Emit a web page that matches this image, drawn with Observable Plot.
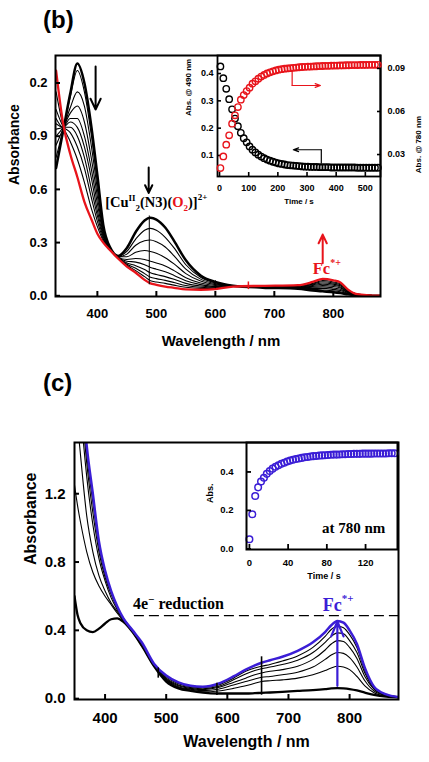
<!DOCTYPE html>
<html><head><meta charset="utf-8">
<script src="https://cdn.jsdelivr.net/npm/d3@7"></script>
<script src="https://cdn.jsdelivr.net/npm/@observablehq/plot@0.6"></script>
<style>
body{margin:0;background:#fff;}
#root{position:relative;width:429px;height:762px;overflow:hidden;font-family:"Liberation Sans",Arial,sans-serif;}
.tag{position:absolute;font-weight:bold;font-size:24px;line-height:24px;font-family:"Liberation Sans",Arial,sans-serif;}
</style></head><body>
<div id="root">
  <div class="tag" style="left:43px;top:8px">(b)</div>
  <div class="tag" style="left:43px;top:371px">(c)</div>
</div>
<script>
// ---------- Panel (b): spectra ----------
const wlB = [330, 342, 354, 366, 378, 390, 400, 410, 422, 435, 450, 465, 480, 490, 500, 515, 530, 550, 575, 600, 630, 680, 740, 765, 782, 800, 812, 825, 840, 880];
const bSpec0 = [0.72,0.93,1.14,1.31,1.20,0.95,0.68,0.40,0.27,0.225,0.27,0.36,0.425,0.44,0.43,0.385,0.31,0.20,0.115,0.078,0.057,0.046,0.04,0.03,0.025,0.02,0.015,0.008,0.003,0];
const bSpec1 = [0.78,0.94,1.12,1.27,1.15,0.90,0.64,0.39,0.27,0.223,0.25,0.32,0.37,0.38,0.37,0.33,0.27,0.175,0.105,0.073,0.056,0.047,0.042,0.036,0.033,0.028,0.022,0.011,0.004,0];
const bSpec2 = [0.85,0.945,1.06,1.15,1.07,0.84,0.60,0.37,0.27,0.22,0.235,0.285,0.31,0.315,0.305,0.275,0.225,0.15,0.094,0.068,0.055,0.048,0.044,0.042,0.042,0.036,0.03,0.014,0.005,0];
const bSpec3 = [0.90,0.95,1.03,1.07,0.98,0.77,0.56,0.36,0.265,0.22,0.22,0.245,0.255,0.25,0.24,0.215,0.18,0.125,0.083,0.063,0.055,0.049,0.046,0.048,0.05,0.044,0.037,0.017,0.006,0];
const bSpec4 = [0.94,0.95,1.00,1.00,0.90,0.71,0.52,0.35,0.265,0.218,0.205,0.21,0.205,0.195,0.185,0.168,0.142,0.102,0.072,0.058,0.054,0.05,0.048,0.053,0.058,0.052,0.044,0.02,0.007,0];
const bSpec5 = [0.97,0.95,0.98,0.95,0.84,0.66,0.48,0.34,0.26,0.216,0.195,0.19,0.175,0.16,0.15,0.135,0.115,0.085,0.063,0.053,0.054,0.051,0.05,0.058,0.065,0.059,0.05,0.023,0.008,0];
const bSpec6 = [1.00,0.95,0.95,0.90,0.78,0.60,0.45,0.33,0.26,0.215,0.185,0.17,0.148,0.13,0.12,0.108,0.093,0.07,0.055,0.049,0.053,0.052,0.052,0.062,0.072,0.066,0.056,0.026,0.009,0];
const bSpec7 = [1.05,0.955,0.92,0.84,0.72,0.55,0.42,0.32,0.26,0.214,0.178,0.155,0.125,0.105,0.097,0.087,0.075,0.058,0.048,0.045,0.053,0.053,0.054,0.066,0.079,0.072,0.062,0.029,0.01,0];
const bSpec8 = [1.15,0.96,0.87,0.77,0.64,0.49,0.39,0.31,0.255,0.212,0.172,0.142,0.108,0.085,0.078,0.07,0.06,0.048,0.042,0.042,0.052,0.054,0.056,0.07,0.086,0.078,0.068,0.032,0.01,0];
const bSpecRed = [1.27,0.97,0.80,0.67,0.53,0.43,0.35,0.30,0.255,0.21,0.165,0.13,0.09,0.07,0.062,0.052,0.045,0.036,0.034,0.038,0.052,0.056,0.06,0.078,0.095,0.087,0.075,0.035,0.01,0];
const bXTicks = [400, 500, 600, 700, 800];
const bYTicks = [0, 0.3, 0.6, 0.9, 1.2];
const bYTickLabels = ["0.0", "0.3", "0.6", "0.9", "0.2"];
const bSpikesBlack = [{wl: 488, lo: 0.062, hi: 0.45}, {wl: 600, lo: 0.04, hi: 0.085}];
const bSpikesRed = [{wl: 656, lo: 0.035, hi: 0.078}];
const bArrowsBlack = [{x1: 397, y1: 1.293, x2: 397, y2: 1.05}, {x1: 487, y1: 0.724, x2: 487, y2: 0.58}];
const bArrowsRed = [{x1: 782, y1: 0.183, x2: 782, y2: 0.345}];

// ---------- Panel (b) inset: kinetics ----------
const tB = [3,13,23,33,43,53,63,73,83,93,103,113,123,133,143,153,163,173,183,193,203,213,223,233,243,253,263,273,283,293,303,313,323,333,343,353,363,373,383,393,403,413,423,433,443,453,463,473,483,493,503,513,523,533,543];
const abs490 = [0.426,0.383,0.344,0.306,0.269,0.235,0.207,0.183,0.163,0.148,0.133,0.121,0.111,0.103,0.096,0.090,0.085,0.081,0.077,0.074,0.071,0.069,0.067,0.065,0.064,0.063,0.062,0.061,0.060,0.059,0.059,0.058,0.058,0.058,0.057,0.057,0.057,0.057,0.056,0.056,0.056,0.056,0.056,0.056,0.056,0.056,0.056,0.055,0.055,0.055,0.055,0.055,0.055,0.055,0.055];
const abs780 = [0.0206,0.0287,0.0369,0.0434,0.0515,0.0573,0.0631,0.0682,0.0714,0.0742,0.0766,0.0794,0.0810,0.0828,0.0843,0.0855,0.0865,0.0873,0.0880,0.0886,0.0891,0.0895,0.0898,0.0900,0.0902,0.0904,0.0906,0.0908,0.0910,0.0911,0.0912,0.0913,0.0914,0.0915,0.0916,0.0917,0.0918,0.0918,0.0919,0.0920,0.0920,0.0921,0.0921,0.0922,0.0922,0.0923,0.0923,0.0923,0.0924,0.0924,0.0924,0.0925,0.0925,0.0925,0.0925];
const tBTicks = [0, 100, 200, 300, 400, 500];
const left490Ticks = [0.1, 0.2, 0.3, 0.4];
const right780Ticks = [0.03, 0.06, 0.09];
const blackBend = [{t: 349, a: 0.121}, {t: 349, a: 0.072}];
const blackBendArrow = [{x1: 349, y1: 0.121, x2: 253, y2: 0.121}];
const redBend = [{t: 249, a: 0.0881}, {t: 249, a: 0.0781}];
const redBendArrow = [{x1: 249, y1: 0.0781, x2: 346, y2: 0.0781}];

// ---------- Panel (c): spectra ----------
const wlC = [350, 355, 360, 370, 380, 390, 400, 410, 420, 430, 445, 460, 480, 500, 520, 540, 560, 585, 610, 630, 645, 656, 670, 690, 715, 740, 760, 770, 780, 790, 800, 812, 825, 840, 860, 880];
const cSpec0 = [0.60,0.49,0.44,0.40,0.39,0.41,0.44,0.465,0.47,0.45,0.39,0.31,0.19,0.10,0.06,0.045,0.035,0.03,0.03,0.03,0.032,0.034,0.036,0.04,0.045,0.05,0.056,0.06,0.062,0.06,0.056,0.048,0.035,0.022,0.012,0.008];
const cSpec1 = [1.25,1.13,1.03,0.86,0.74,0.66,0.60,0.55,0.50,0.455,0.39,0.31,0.19,0.105,0.065,0.05,0.04,0.045,0.06,0.075,0.09,0.10,0.105,0.11,0.12,0.14,0.165,0.18,0.19,0.185,0.17,0.13,0.075,0.035,0.015,0.008];
const cSpec2 = [1.9,1.62,1.42,1.07,0.86,0.72,0.63,0.56,0.51,0.46,0.395,0.315,0.195,0.11,0.07,0.055,0.047,0.055,0.08,0.10,0.115,0.125,0.13,0.14,0.155,0.185,0.23,0.255,0.27,0.265,0.24,0.185,0.105,0.045,0.018,0.009];
const cSpec3 = [2.2,1.95,1.7,1.3,1.02,0.82,0.69,0.59,0.52,0.465,0.395,0.32,0.20,0.115,0.075,0.06,0.053,0.065,0.095,0.12,0.14,0.15,0.16,0.17,0.19,0.23,0.285,0.32,0.34,0.335,0.30,0.235,0.13,0.055,0.02,0.01];
const cSpec4 = [2.3,2.05,1.8,1.38,1.09,0.86,0.71,0.61,0.53,0.47,0.40,0.32,0.20,0.12,0.08,0.065,0.058,0.072,0.11,0.145,0.165,0.175,0.185,0.20,0.225,0.27,0.33,0.365,0.385,0.38,0.34,0.27,0.15,0.06,0.022,0.01];
const cSpec5 = [2.35,2.1,1.85,1.43,1.15,0.89,0.73,0.62,0.535,0.47,0.40,0.325,0.20,0.128,0.088,0.07,0.065,0.08,0.12,0.16,0.18,0.19,0.20,0.22,0.25,0.30,0.365,0.405,0.425,0.415,0.375,0.30,0.165,0.065,0.024,0.01];
const cSpecBlue = [2.4,2.15,1.9,1.48,1.2,0.92,0.75,0.63,0.54,0.47,0.40,0.33,0.205,0.135,0.095,0.075,0.07,0.087,0.13,0.17,0.195,0.21,0.225,0.245,0.28,0.33,0.39,0.43,0.455,0.445,0.40,0.32,0.18,0.07,0.025,0.01];
const cXTicks = [400, 500, 600, 700, 800];
const cYTicks = [0, 0.4, 0.8, 1.2];
const cSpikes = [{wl: 656, lo: 0.02, hi: 0.245}, {wl: 583, lo: 0.018, hi: 0.09}, {wl: 487, lo: 0.12, hi: 0.18}];
const cArrow = [{x1: 780, y1: 0.075, x2: 780, y2: 0.452}];
const reductionLine = [{a: 0.486, from: 448, to: 880}];

// ---------- Panel (c) inset: kinetics at 780 nm ----------
const tC = [0,3,6,9,12,15,18,21,24,27,30,33,36,39,42,45,48,51,54,57,60,63,66,69,72,75,78,81,84,87,90,93,96,99,102,105,108,111,114,117,120,123,126,129,132,135,138,141,144,147,150];
const absC = [0.05,0.18,0.275,0.32,0.35,0.37,0.39,0.405,0.417,0.427,0.435,0.442,0.448,0.454,0.459,0.463,0.467,0.47,0.473,0.476,0.478,0.48,0.482,0.483,0.485,0.486,0.487,0.488,0.489,0.49,0.49,0.491,0.492,0.492,0.493,0.493,0.494,0.494,0.494,0.495,0.495,0.495,0.495,0.496,0.496,0.496,0.496,0.496,0.497,0.497,0.497];
const tCTicks = [0, 40, 80, 120];
const absCTicks = [0, 0.2, 0.4];

// ---------- helpers ----------
const RED = "#e8141b", BLUE = "#3b1ed6";
const sans = "'Liberation Sans', Arial, sans-serif";
const serif = "'Liberation Serif', 'Times New Roman', serif";
const root = document.getElementById("root");
function place(svg, left, top) {
  svg.style.position = "absolute";
  svg.style.left = left + "px";
  svg.style.top = top + "px";
  root.appendChild(svg);
  return svg;
}
function rows(wl, list) {
  return list.flatMap((arr, i) => arr.map((a, j) => ({wl: wl[j], a, id: i})));
}
function rich(svg, xv, yv, parts, base) {
  const x = svg.scale("x").apply(xv), y = svg.scale("y").apply(yv);
  const t = d3.select(svg).append("text")
    .attr("x", x).attr("y", y).attr("text-anchor", "start")
    .attr("font-family", serif).attr("font-weight", "bold")
    .attr("font-size", base.size).attr("fill", base.fill || "#000");
  let cur = 0;
  for (const p of parts) {
    const s = p.shift || 0;
    t.append("tspan").attr("dy", s - cur)
      .attr("font-size", p.size || base.size)
      .attr("fill", p.fill || base.fill || "#000").text(p.t);
    cur = s;
  }
}
function styleFor(size) {
  return {background: "transparent", overflow: "visible", fontFamily: sans, fontSize: size + "px", fontWeight: "bold", color: "#000"};
}

// ---------- main (b) ----------
const mainB = Plot.plot({
  width: 429, height: 360, marginLeft: 55, marginRight: 49, marginTop: 55, marginBottom: 64,
  x: {domain: [329, 880]}, y: {domain: [-0.004, 1.355]},
  style: styleFor(13),
  marks: [
    Plot.line(rows(wlB, [bSpec1, bSpec2, bSpec3, bSpec4, bSpec5, bSpec6, bSpec7, bSpec8]), {x: "wl", y: "a", z: "id", stroke: "#000", strokeWidth: 1.1, curve: "monotone-x", clip: true}),
    Plot.line(rows(wlB, [bSpec0]), {x: "wl", y: "a", stroke: "#000", strokeWidth: 2.5, curve: "monotone-x", clip: true}),
    Plot.line(rows(wlB, [bSpecRed]), {x: "wl", y: "a", stroke: RED, strokeWidth: 2.3, curve: "monotone-x", clip: true}),
    Plot.ruleX(bSpikesBlack, {x: "wl", y1: "lo", y2: "hi", stroke: "#000", strokeWidth: 1}),
    Plot.ruleX(bSpikesRed, {x: "wl", y1: "lo", y2: "hi", stroke: RED, strokeWidth: 1.5}),
    Plot.arrow(bArrowsBlack, {x1: "x1", y1: "y1", x2: "x2", y2: "y2", stroke: "#000", strokeWidth: 2, headLength: 9, headAngle: 50}),
    Plot.arrow(bArrowsRed, {x1: "x1", y1: "y1", x2: "x2", y2: "y2", stroke: RED, strokeWidth: 2, headLength: 9, headAngle: 50}),
    Plot.axisX({ticks: bXTicks, label: null, tickSize: 0, tickPadding: 12, tickFormat: d => String(d)}),
    Plot.axisX({ticks: bXTicks, label: null, tickSize: 5, dy: -5, tickFormat: () => "", strokeWidth: 2}),
    Plot.axisY({ticks: bYTicks, label: null, tickSize: 0, tickPadding: 8, tickFormat: d => bYTickLabels[bYTicks.indexOf(d)]}),
    Plot.axisY({ticks: bYTicks, label: null, tickSize: 5, dx: 5, tickFormat: () => "", strokeWidth: 2}),
    Plot.text(["Absorbance"], {text: d => d, frameAnchor: "left", dx: -41, dy: 9, rotate: -90, fontSize: 14, fontWeight: "bold"}),
    Plot.text(["Wavelength / nm"], {text: d => d, frameAnchor: "bottom", dy: 49, dx: 3, fontSize: 15, fontWeight: "bold"}),
    Plot.frame({stroke: "#000", strokeWidth: 2})
  ]
});
place(mainB, 0, 0);
rich(mainB, 414, 0.50, [
  {t: "[Cu"}, {t: "II", size: 9, shift: -6}, {t: "2", size: 9, shift: 4}, {t: "(N3)("},
  {t: "O", fill: RED}, {t: "2", size: 9, shift: 4, fill: RED}, {t: ")]"}, {t: "2+", size: 9, shift: -7}
], {size: 14.5});
rich(mainB, 766, 0.121, [{t: "Fc"}, {t: "*+", size: 10, shift: -8}], {size: 16.5, fill: RED});

// ---------- inset (b), left scale ----------
const insetBL = Plot.plot({
  width: 269, height: 180, marginLeft: 57, marginRight: 49, marginTop: 15, marginBottom: 44,
  x: {domain: [-7, 552]}, y: {domain: [0.023, 0.466]},
  style: styleFor(9),
  marks: [
    Plot.dot(tB.map((t, i) => ({t, a: abs490[i]})), {x: "t", y: "a", r: 3.2, stroke: "#000", strokeWidth: 1.4, fill: "none"}),
    Plot.line(blackBend, {x: "t", y: "a", stroke: "#000", strokeWidth: 1.2}),
    Plot.arrow(blackBendArrow, {x1: "x1", y1: "y1", x2: "x2", y2: "y2", stroke: "#000", strokeWidth: 1.2, headLength: 7, headAngle: 40}),
    Plot.axisX({ticks: tBTicks, label: null, tickSize: 0, tickPadding: 8, tickFormat: d => String(d)}),
    Plot.axisX({ticks: tBTicks, label: null, tickSize: 4, dy: -4, tickFormat: () => "", strokeWidth: 1.6}),
    Plot.axisY({ticks: left490Ticks, label: null, tickSize: 0, tickPadding: 4, tickFormat: d3.format(".1f")}),
    Plot.axisY({ticks: left490Ticks, label: null, tickSize: 4, dx: 4, tickFormat: () => "", strokeWidth: 1.6}),
    Plot.text(["Abs. @ 490 nm"], {text: d => d, frameAnchor: "left", dx: -29, rotate: -90, fontSize: 8, fontWeight: "bold"}),
    Plot.text(["Time / s"], {text: d => d, frameAnchor: "bottom", dy: 27, fontSize: 8, fontWeight: "bold"}),
    Plot.frame({stroke: "#000", strokeWidth: 1.8})
  ]
});
place(insetBL, 160, 40);

// ---------- inset (b), right scale ----------
const insetBR = Plot.plot({
  width: 269, height: 180, marginLeft: 57, marginRight: 49, marginTop: 15, marginBottom: 44,
  x: {domain: [-7, 552], axis: null}, y: {domain: [0.0147, 0.099]},
  style: styleFor(9),
  marks: [
    Plot.dot(tB.map((t, i) => ({t, a: abs780[i]})), {x: "t", y: "a", r: 3.2, stroke: RED, strokeWidth: 1.4, fill: "none"}),
    Plot.line(redBend, {x: "t", y: "a", stroke: RED, strokeWidth: 1.2}),
    Plot.arrow(redBendArrow, {x1: "x1", y1: "y1", x2: "x2", y2: "y2", stroke: RED, strokeWidth: 1.2, headLength: 7, headAngle: 40}),
    Plot.axisY({anchor: "right", label: null, ticks: right780Ticks, tickSize: 0, tickPadding: 7, tickFormat: d3.format(".2f")}),
    Plot.axisY({anchor: "right", label: null, ticks: right780Ticks, tickSize: 4, dx: -4, tickFormat: () => "", strokeWidth: 1.6}),
    Plot.text(["Abs. @ 780 nm"], {text: d => d, frameAnchor: "right", dx: 38, rotate: -90, fontSize: 8, fontWeight: "bold"})
  ]
});
place(insetBR, 160, 40);

// ---------- main (c) ----------
const mainC = Plot.plot({
  width: 429, height: 380, marginLeft: 74, marginRight: 31, marginTop: 62, marginBottom: 61,
  x: {domain: [350, 880]}, y: {domain: [-0.005, 1.5]},
  style: styleFor(15),
  marks: [
    Plot.line(rows(wlC, [cSpec1, cSpec2, cSpec3, cSpec4, cSpec5]), {x: "wl", y: "a", z: "id", stroke: "#000", strokeWidth: 1.1, curve: "monotone-x", clip: true}),
    Plot.line(rows(wlC, [cSpec0]), {x: "wl", y: "a", stroke: "#000", strokeWidth: 2.3, curve: "monotone-x", clip: true}),
    Plot.line(rows(wlC, [cSpecBlue]), {x: "wl", y: "a", stroke: BLUE, strokeWidth: 2.5, curve: "monotone-x", clip: true}),
    Plot.ruleX(cSpikes, {x: "wl", y1: "lo", y2: "hi", stroke: "#000", strokeWidth: 1.6}),
    Plot.ruleY(reductionLine, {y: "a", x1: "from", x2: "to", stroke: "#000", strokeWidth: 1.4, strokeDasharray: "10,5"}),
    Plot.arrow(cArrow, {x1: "x1", y1: "y1", x2: "x2", y2: "y2", stroke: BLUE, strokeWidth: 2.2, headLength: 11, headAngle: 45}),
    Plot.axisX({ticks: cXTicks, label: null, tickSize: 0, tickPadding: 13, tickFormat: d => String(d)}),
    Plot.axisX({ticks: cXTicks, label: null, tickSize: 5, dy: -5, tickFormat: () => "", strokeWidth: 2}),
    Plot.axisY({ticks: cYTicks, label: null, tickSize: 0, tickPadding: 9, tickFormat: d3.format(".1f")}),
    Plot.axisY({ticks: cYTicks, label: null, tickSize: 5, dx: 5, tickFormat: () => "", strokeWidth: 2}),
    Plot.text(["Absorbance"], {text: d => d, frameAnchor: "left", dx: -44, dy: -6, rotate: -90, fontSize: 16, fontWeight: "bold"}),
    Plot.text(["Wavelength / nm"], {text: d => d, frameAnchor: "bottom", dy: 47, dx: 10, fontSize: 16, fontWeight: "bold"}),
    Plot.frame({stroke: "#000", strokeWidth: 2})
  ]
});
place(mainC, 0, 380);
rich(mainC, 446.5, 0.521, [{t: "4e"}, {t: "\u2212", size: 11, shift: -6}, {t: " reduction"}], {size: 16});
rich(mainC, 757, 0.51, [{t: "Fc"}, {t: "*+", size: 11, shift: -9}], {size: 18, fill: BLUE});

// ---------- inset (c) ----------
const insetC = Plot.plot({
  width: 239, height: 180, marginLeft: 56, marginRight: 32, marginTop: 22, marginBottom: 51,
  x: {domain: [-3, 153]}, y: {domain: [-0.003, 0.553]},
  style: styleFor(9.5),
  marks: [
    Plot.dot(tC.map((t, i) => ({t, a: absC[i]})), {x: "t", y: "a", r: 3.3, stroke: BLUE, strokeWidth: 1.5, fill: "none"}),
    Plot.axisX({ticks: tCTicks, label: null, tickSize: 0, tickPadding: 10, tickFormat: d => String(d)}),
    Plot.axisX({ticks: tCTicks, label: null, tickSize: 5, dy: -5, tickFormat: () => "", strokeWidth: 1.8}),
    Plot.axisY({ticks: absCTicks, label: null, tickSize: 0, tickPadding: 13, tickFormat: d3.format(".1f")}),
    Plot.axisY({ticks: absCTicks, label: null, tickSize: 5, dx: 5, tickFormat: () => "", strokeWidth: 1.8}),
    Plot.text(["Abs."], {text: d => d, frameAnchor: "left", dx: -36, dy: 7, rotate: -90, fontSize: 9, fontWeight: "bold"}),
    Plot.text(["Time / s"], {text: d => d, frameAnchor: "bottom", dy: 29, dx: 2, fontSize: 9, fontWeight: "bold"}),
    Plot.frame({stroke: "#000", strokeWidth: 2})
  ]
});
place(insetC, 190, 420);
rich(insetC, 75.5, 0.08, [{t: "at 780 nm"}], {size: 15});
</script>
</body></html>
